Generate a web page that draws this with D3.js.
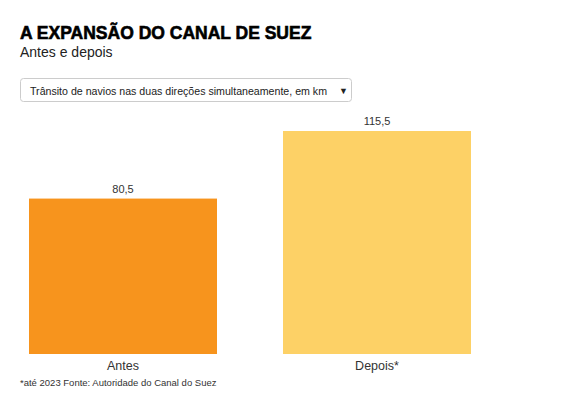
<!DOCTYPE html>
<html><head><meta charset="utf-8">
<script src="https://cdn.jsdelivr.net/npm/d3@7"></script>
<style>body{margin:0;background:#fff;font-family:"Liberation Sans",Arial,sans-serif}</style>
</head><body><svg width="570" height="408"></svg>
<script>
const categories = ['Antes', 'Depois*'];
const values = [80.5, 115.5];
const colors = ['#f7941d', '#fdd166'];
const labels = ['80,5', '115,5'];

const svg = d3.select('svg');

svg.append('text').attr('x', 20).attr('y', 39)
    .style('font-size', '17.5px').style('font-weight', 'bold')
    .attr('stroke', '#000').attr('stroke-width', 0.6)
    .text('A EXPANSÃO DO CANAL DE SUEZ');
svg.append('text').attr('x', 20).attr('y', 57)
    .style('font-size', '14px').attr('fill', '#222').text('Antes e depois');

// dropdown box
svg.append('rect').attr('x', 20.5).attr('y', 78.5).attr('width', 331).attr('height', 23)
    .attr('rx', 3).attr('fill', '#fff').attr('stroke', '#ccc');
svg.append('text').attr('x', 30).attr('y', 94.5).style('font-size', '11.5px').attr('fill', '#222')
    .attr('textLength', 297).attr('lengthAdjust', 'spacingAndGlyphs')
    .text('Trânsito de navios nas duas direções simultaneamente, em km');
svg.append('text').attr('x', 339).attr('y', 94).style('font-size', '9px').attr('fill', '#222').text('▼');

const x = d3.scaleBand().domain(categories).range([29, 537]).paddingInner(0.3).paddingOuter(0).align(0);
const y = d3.scaleLinear().domain([0, 115.5]).range([354, 131]);
const bw = 188;

svg.selectAll('rect.bar').data(values).enter().append('rect')
    .attr('class', 'bar')
    .attr('x', (d, i) => 29 + i * 254).attr('width', bw)
    .attr('y', d => y(d)).attr('height', d => y(0) - y(d))
    .attr('fill', (d, i) => colors[i]);

svg.selectAll('text.val').data(values).enter().append('text')
    .attr('x', (d, i) => 29 + i * 254 + bw / 2).attr('y', d => y(d) - 6)
    .attr('text-anchor', 'middle').style('font-size', '11px').attr('fill', '#333')
    .text((d, i) => labels[i]);

svg.selectAll('text.cat').data(categories).enter().append('text')
    .attr('x', (d, i) => 29 + i * 254 + bw / 2).attr('y', 370)
    .attr('text-anchor', 'middle').style('font-size', '12.5px').attr('fill', '#333')
    .text(d => d);

svg.append('text').attr('x', 20).attr('y', 386).style('font-size', '9.5px').attr('fill', '#333')
    .text('*até 2023 Fonte: Autoridade do Canal do Suez');
</script></body></html>
